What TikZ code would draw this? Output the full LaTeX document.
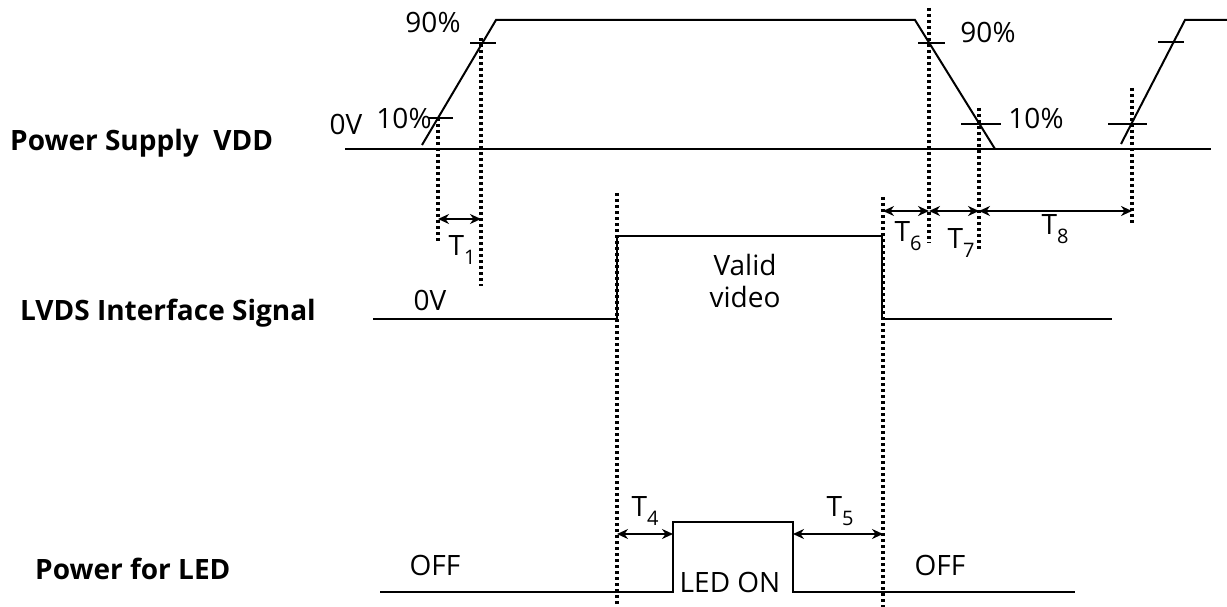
\documentclass[tikz,border=0pt]{standalone}
\usepackage{fontspec}
\setmainfont{Open Sans}
\usetikzlibrary{arrows.meta}
\newcommand{\Tsub}[1]{T\raisebox{-0.3em}{\fontsize{20}{22}\selectfont #1}}
\begin{document}
\begin{tikzpicture}[x=1pt,y=-1pt,
  every node/.style={font=\fontsize{28}{32}\selectfont, inner sep=0pt},
  lbl/.style={font=\fontsize{28}{32}\selectfont\bfseries, anchor=west},
  wave/.style={line width=2pt},
  tick/.style={line width=2pt},
  dots/.style={line width=3.2pt, dash pattern=on 3pt off 3pt},
  dim/.style={line width=2.2pt, {Stealth[length=11pt,width=10pt]}-{Stealth[length=11pt,width=10pt]}}]
\useasboundingbox (0,0) rectangle (1227,607);
% labels
\node[lbl] (lvdd) at (10,143) {Power Supply\ \ VDD};
\node[lbl] (llvds) at (20,313) {LVDS Interface Signal};
\node[lbl] (lled) at (35,569) {Power for LED};
% VDD waveform
\draw[wave] (345,149) -- (1211,149);
\draw[wave] (422,145) -- (496,20) -- (915,20) -- (995,149);
\draw[wave] (1121,144) -- (1185,20) -- (1227,20);
\draw[tick] (428,118) -- (453,118);
\draw[tick] (470,43) -- (496,43);
\draw[tick] (918,43) -- (945,43);
\draw[tick] (961,124) -- (1001,124);
\draw[tick] (1158,42) -- (1184,42);
\draw[tick] (1108,124) -- (1147,124);
\node (t90a) at (433,22) {90\%};
\node (t10a) at (404,118) {10\%};
\node (t0va) at (346,124) {0V};
\node (t90b) at (988,32) {90\%};
\node (t10b) at (1036,118) {10\%};
% LVDS waveform
\draw[wave] (373,319) -- (617,319) -- (617,236) -- (882,236) -- (882,319) -- (1112,319);
\node (t0vb) at (430,300) {0V};
\node (valid) at (745,265) {Valid};
\node (video) at (745,297) {video};
% LED waveform
\draw[wave] (380,592) -- (673,592) -- (673,522) -- (793,522) -- (793,592) -- (1075,592);
\node (ledon) at (730,582) {LED ON};
\node (offa) at (435,565) {OFF};
\node (offb) at (940,565) {OFF};
% dotted lines
\coordinate (d1t) at (438,118); \coordinate (d1b) at (438,243);
\coordinate (d2t) at (481,38);  \coordinate (d2b) at (481,286);
\coordinate (d3t) at (617,193); \coordinate (d3b) at (617,607);
\coordinate (d4t) at (883,197); \coordinate (d4b) at (883,607);
\coordinate (d5t) at (929,8);   \coordinate (d5b) at (929,243);
\coordinate (d6t) at (979,108); \coordinate (d6b) at (979,250);
\coordinate (d7t) at (1132,88); \coordinate (d7b) at (1132,223);
\foreach \i in {1,...,7} \draw[dots] (d\i t) -- (d\i b);
% dimension arrows
\coordinate (a1) at (438,219); \coordinate (a2) at (481,219);
\coordinate (b4) at (883,211); \coordinate (b5) at (929,211);
\coordinate (b6) at (979,211); \coordinate (b7) at (1132,211);
\coordinate (c3) at (617,534); \coordinate (c4) at (673,534);
\coordinate (c5) at (793,534); \coordinate (c6) at (883,534);
\draw[dim] (a1) -- (a2);
\draw[dim] (b4) -- (b5);
\draw[dim] (b5) -- (b6);
\draw[dim] (b6) -- (b7);
\draw[dim] (c3) -- (c4);
\draw[dim] (c5) -- (c6);
\node (T1) at (462,250) {\Tsub{1}};
\node (T6) at (908,236) {\Tsub{6}};
\node (T7) at (961,243) {\Tsub{7}};
\node (T8) at (1055,229) {\Tsub{8}};
\node (T4) at (645,511) {\Tsub{4}};
\node (T5) at (840,511) {\Tsub{5}};
\end{tikzpicture}
\end{document}
